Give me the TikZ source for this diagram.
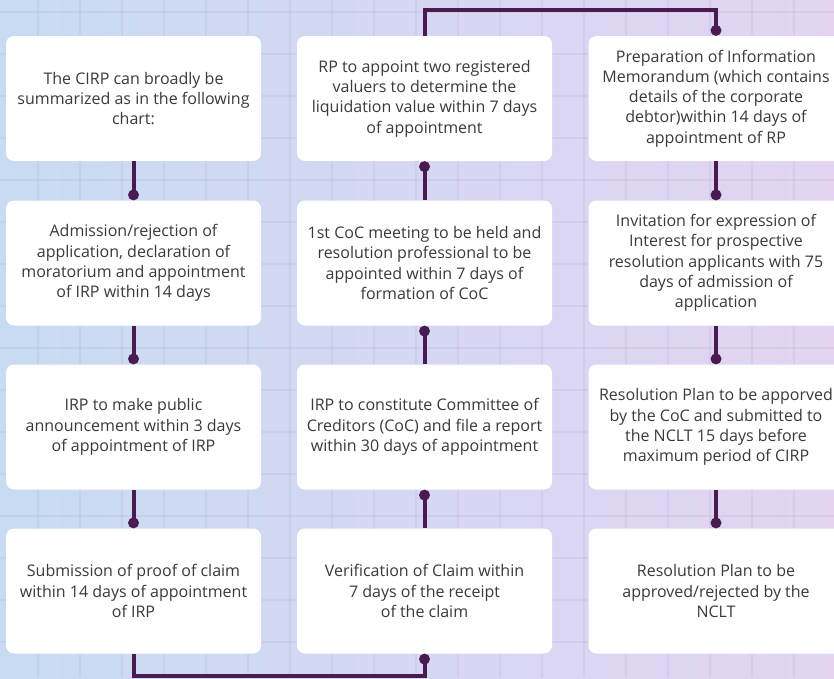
\documentclass[tikz,border=0pt]{standalone}
\usepackage{fontspec}
\setmainfont{Open Sans}
\usetikzlibrary{arrows.meta}
\definecolor{bgleft}{HTML}{C8DBF2}
\definecolor{bgright}{HTML}{E3D4F3}
\definecolor{linkcol}{HTML}{4A1A52}
\definecolor{txtcol}{HTML}{3A3A3A}
\tikzset{
stage/.style={fill=white, rounded corners=6pt, minimum width=191.25pt, minimum height=93.75pt, inner sep=0pt, align=center, text=txtcol, font=\fontsize{12}{15.2}\selectfont},
link/.style={linkcol, line width=3pt, -{Circle[length=8pt,width=8pt]}},
gridline/.style={black, opacity=.04, line width=.8pt}
}
\begin{document}
\begin{tikzpicture}[x=.75pt,y=-.75pt]%CIRP chart
\useasboundingbox (0,0) rectangle (834,678);
\shade[left color=bgleft, right color=bgright] (0,0) rectangle (834,678);
\foreach \k in {0,...,19} {
\draw [gridline](38+42*\k,0) --(38+42*\k,678);}
\foreach \k in {0,...,16} {
\draw [gridline](0,12+42*\k) --(834,12+42*\k);}

\node[stage] (a1) at (133.5,98.5) {The CIRP can broadly be\\summarized as in the following\\chart:};
\node[stage] (a2) at (133.5,263) {Admission/rejection of\\application, declaration of\\moratorium and appointment\\of IRP within 14 days};
\node[stage] (a3) at (133.5,427) {IRP to make public\\announcement within 3 days\\of appointment of IRP};
\node[stage] (a4) at (133.5,591) {Submission of proof of claim\\within 14 days of appointment\\of IRP};

\node[stage] (b1) at (424.5,98.5) {RP to appoint two registered\\valuers to determine the\\liquidation value within 7 days\\of appointment};
\node[stage] (b2) at (424.5,263) {1st CoC meeting to be held and\\resolution professional to be\\appointed within 7 days of\\formation of CoC};
\node[stage] (b3) at (424.5,427) {IRP to constitute Committee of\\Creditors (CoC) and file a report\\within 30 days of appointment};
\node[stage] (b4) at (424.5,591) {Verification of Claim within\\7 days of the receipt\\of the claim};

\node[stage] (c1) at (716,98.5) {Preparation of Information\\Memorandum (which contains\\details of the corporate\\debtor)within 14 days of\\appointment of RP};
\node[stage] (c2) at (716,263) {Invitation for expression of\\Interest for prospective\\resolution applicants with 75\\days of admission of\\application};
\node[stage] (c3) at (716,427) {Resolution Plan to be apporved\\by the CoC and submitted to\\the NCLT 15 days before\\maximum period of CIRP};
\node[stage] (c4) at (716,591) {Resolution Plan to be\\approved/rejected by the\\NCLT};

\coordinate (top) at (0,10);
\coordinate (bot) at (0,676);
\draw [link](a1.south) --(a2.north);
\draw [link](a2.south) --(a3.north);
\draw [link](a3.south) --(a4.north);
\draw [link](a4.south) --(a4.south |- bot) -|(b4.south);
\draw [link](b4.north) --(b3.south);
\draw [link](b3.north) --(b2.south);
\draw [link](b2.north) --(b1.south);
\draw [link](b1.north) --(b1.north |- top) -|(c1.north);
\draw [link](c1.south) --(c2.north);
\draw [link](c2.south) --(c3.north);
\draw [link](c3.south) --(c4.north);
\end{tikzpicture}
\end{document}
